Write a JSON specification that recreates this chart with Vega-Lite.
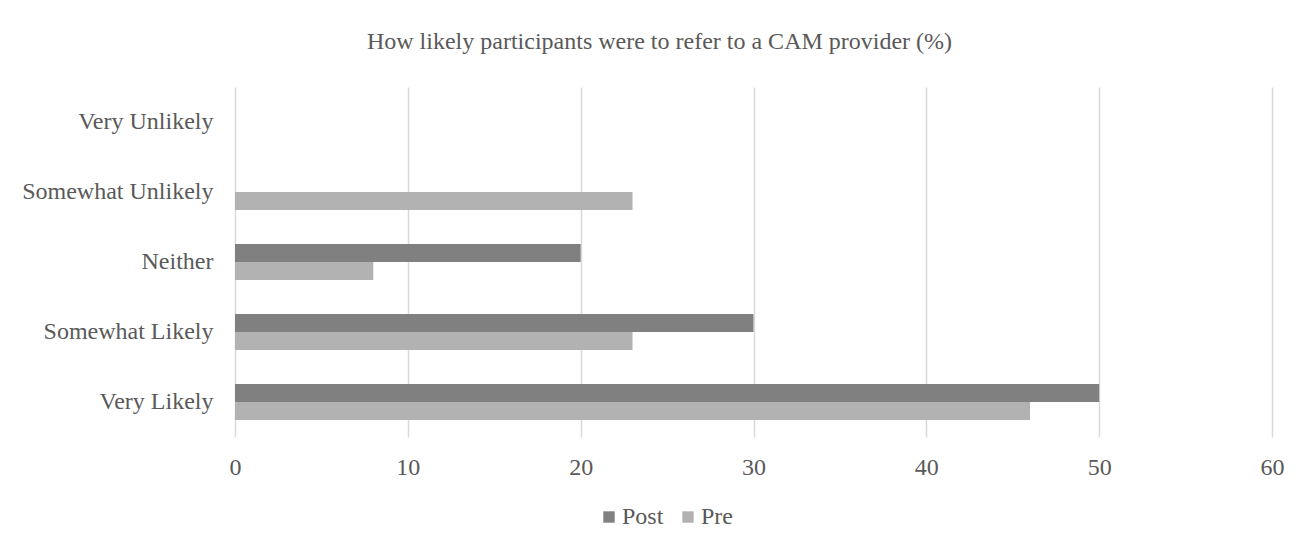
{
  "$schema": "https://vega.github.io/schema/vega-lite/v6.json",
  "width": 1037,
  "height": 350,
  "autosize": {"type": "none"},
  "padding": {"left": 235, "top": 87, "right": 40, "bottom": 115},
  "background": "white",
  "title": {
    "text": "How likely participants were to refer to a CAM provider (%)",
    "font": "Liberation Serif",
    "fontSize": 24,
    "fontWeight": "normal",
    "color": "#595959",
    "anchor": "middle",
    "baseline": "middle",
    "dx": -94,
    "offset": 21
  },
  "data": {
    "values": [
      {"category": "Very Unlikely", "series": "Post", "value": 0},
      {"category": "Very Unlikely", "series": "Pre", "value": 0},
      {"category": "Somewhat Unlikely", "series": "Post", "value": 0},
      {"category": "Somewhat Unlikely", "series": "Pre", "value": 23},
      {"category": "Neither", "series": "Post", "value": 20},
      {"category": "Neither", "series": "Pre", "value": 8},
      {"category": "Somewhat Likely", "series": "Post", "value": 30},
      {"category": "Somewhat Likely", "series": "Pre", "value": 23},
      {"category": "Very Likely", "series": "Post", "value": 50},
      {"category": "Very Likely", "series": "Pre", "value": 46}
    ]
  },
  "mark": {"type": "bar"},
  "encoding": {
    "y": {
      "field": "category",
      "type": "nominal",
      "sort": ["Very Unlikely", "Somewhat Unlikely", "Neither", "Somewhat Likely", "Very Likely"],
      "scale": {"paddingInner": 0.486, "paddingOuter": 0.243},
      "axis": {
        "title": null,
        "domain": false,
        "ticks": false,
        "tickSize": 0,
        "labelPadding": 22,
        "labelLimit": 400,
        "labelFont": "Liberation Serif",
        "labelFontSize": 24,
        "labelColor": "#595959",
        "grid": false
      }
    },
    "yOffset": {
      "field": "series",
      "type": "nominal",
      "sort": ["Post", "Pre"]
    },
    "x": {
      "field": "value",
      "type": "quantitative",
      "scale": {"domain": [0, 60], "nice": false},
      "axis": {
        "title": null,
        "values": [0, 10, 20, 30, 40, 50, 60],
        "domain": false,
        "ticks": false,
        "tickSize": 0,
        "labelFlush": false,
        "labelPadding": 18,
        "labelFont": "Liberation Serif",
        "labelFontSize": 24,
        "labelColor": "#595959",
        "grid": true,
        "gridColor": "#d9d9d9",
        "gridWidth": 1.5
      }
    },
    "color": {
      "field": "series",
      "type": "nominal",
      "sort": ["Post", "Pre"],
      "scale": {"domain": ["Post", "Pre"], "range": ["#808080", "#b2b2b2"]},
      "legend": {
        "title": null,
        "orient": "none",
        "direction": "horizontal",
        "legendX": 362,
        "legendY": 418,
        "symbolType": "square",
        "symbolSize": 130,
        "symbolStrokeWidth": 0,
        "labelFont": "Liberation Serif",
        "labelFontSize": 24,
        "labelColor": "#595959",
        "labelOffset": 1,
        "columnPadding": 12
      }
    }
  },
  "config": {
    "view": {"stroke": null}
  }
}
